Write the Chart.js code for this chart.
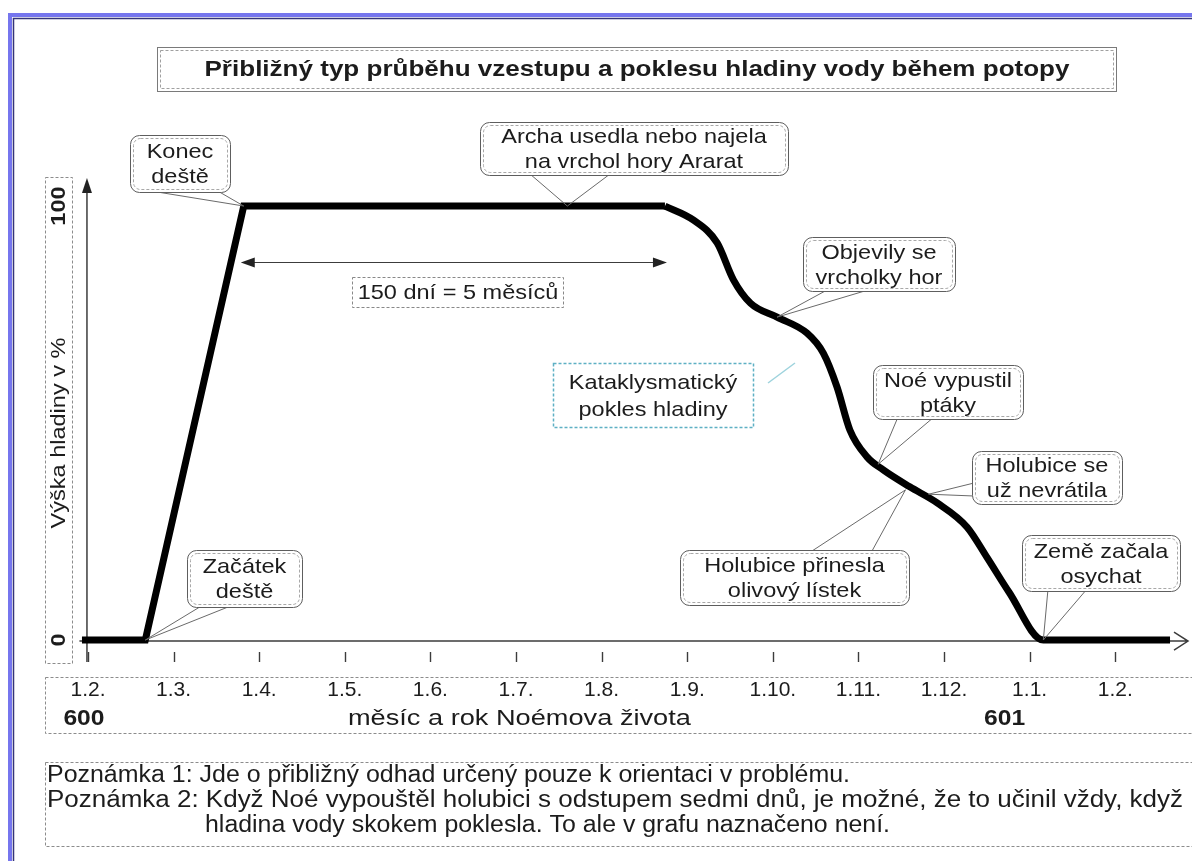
<!DOCTYPE html>
<html>
<head>
<meta charset="utf-8">
<script src="https://cdn.jsdelivr.net/npm/chart.js@4"></script>
<style>
  body { margin: 0; background: #fff; }
  canvas { display: block; }
</style>
</head>
<body>
<canvas id="flood" width="1192" height="861"></canvas>
<script>
// x = months counted from 1.2. of year 600, y = water level in %
const riseMonths = [-0.07, 0.67, 1.82, 6.74];
const riseLevels = [0, 0, 100, 100];
const fallMonths = [6.74, 7.07, 7.35, 7.54, 7.74, 8.05, 8.40, 8.59, 8.75, 8.90, 9.10, 9.29, 9.60, 9.92, 10.27, 10.50, 10.76, 11.16, 12.64];
const fallLevels = [100, 96.8, 91.5, 83, 77.6, 74.4, 70.7, 66.1, 58.3, 48.4, 42.2, 39.2, 35.3, 31.6, 26.0, 19.1, 11.0, 0, 0];

const monthTicks = [0, 1, 2, 3, 4, 5, 6, 7, 8, 9, 10, 11, 12];
const monthLabels = ['1.2.', '1.3.', '1.4.', '1.5.', '1.6.', '1.7.', '1.8.', '1.9.', '1.10.', '1.11.', '1.12.', '1.1.', '1.2.'];
const levelTicks = [0, 100];
const levelLabels = ['0', '100'];

const FONT = '"Liberation Sans", Arial, sans-serif';
const INK = '#1c1c1c';
const SX = 1.12; // reference text runs a bit wider than plain Arial

const notes = [
  'Poznámka 1: Jde o přibližný odhad určený pouze k orientaci v problému.',
  'Poznámka 2: Když Noé vypouštěl holubici s odstupem sedmi dnů, je možné, že to učinil vždy, když',
  'hladina vody skokem poklesla. To ale v grafu naznačeno není.'
];

const callouts = [
  { lines: ['Konec', 'deště'], box: [130, 135, 100, 57], base: [[145, 190], [216, 190]], at: [1.82, 100] },
  { lines: ['Archa usedla nebo najela', 'na vrchol hory Ararat'], box: [480, 122, 308, 53], base: [[530, 174], [610, 174]], at: [5.6, 100] },
  { lines: ['Objevily se', 'vrcholky hor'], box: [803, 237, 152, 54], base: [[827, 290], [868, 290]], at: [8.05, 74.4] },
  { lines: ['Noé vypustil', 'ptáky'], box: [873, 365, 150, 54], base: [[898, 417], [934, 417]], at: [9.23, 40.5] },
  { lines: ['Holubice se', 'už nevrátila'], box: [972, 451, 150, 53], base: [[974, 483], [974, 496]], at: [9.82, 33.6] },
  { lines: ['Holubice přinesla', 'olivový lístek'], box: [680, 550, 229, 55], base: [[812, 551], [872, 551]], at: [9.55, 34.6] },
  { lines: ['Země začala', 'osychat'], box: [1022, 535, 158, 56], base: [[1048, 589], [1087, 589]], at: [11.16, 0] },
  { lines: ['Začátek', 'deště'], box: [187, 550, 115, 57], base: [[203, 605], [233, 605]], at: [0.67, 0] }
];

function txt(ctx, s, x, y, size, o) {
  o = o || {};
  ctx.save();
  ctx.font = (o.bold ? 'bold ' : '') + size + 'px ' + FONT;
  ctx.fillStyle = o.color || INK;
  ctx.textAlign = o.align || 'center';
  ctx.textBaseline = 'middle';
  ctx.translate(x, y);
  if (o.rotate) ctx.rotate(o.rotate);
  const sx = o.width ? o.width / ctx.measureText(s).width : (o.sx || SX);
  ctx.scale(sx, 1);
  ctx.fillText(s, 0, 0);
  ctx.restore();
}

function dashedRect(ctx, x, y, w, h, color, lw) {
  ctx.save();
  ctx.strokeStyle = color || '#8c8c8c';
  ctx.lineWidth = lw || 1;
  ctx.setLineDash([3, 2]);
  ctx.strokeRect(x + 0.5, y + 0.5, w, h);
  ctx.restore();
}

function roundBox(ctx, x, y, w, h, r) {
  ctx.beginPath();
  ctx.roundRect(x + 0.5, y + 0.5, w, h, r);
}

const decorations = {
  id: 'decorations',
  beforeDraw(chart) {
    const ctx = chart.ctx;
    ctx.save();
    ctx.fillStyle = '#fff';
    ctx.fillRect(0, 0, chart.width, chart.height);
    // outer frame
    ctx.strokeStyle = '#7676ee';
    ctx.lineWidth = 4;
    ctx.strokeRect(10, 15, 1300, 1000);
    ctx.strokeStyle = '#34347a';
    ctx.lineWidth = 1.5;
    ctx.strokeRect(13.5, 18.5, 1300, 1000);
    ctx.restore();
  },
  beforeDatasetsDraw(chart) {
    const ctx = chart.ctx, xs = chart.scales.x, ys = chart.scales.y, a = chart.chartArea;
    const x0 = xs.getPixelForValue(0), y0 = ys.getPixelForValue(0);
    ctx.save();
    ctx.strokeStyle = '#3c3c3c';
    ctx.fillStyle = '#222';
    ctx.lineWidth = 1.5;
    // y axis with filled arrow
    ctx.beginPath();
    ctx.moveTo(x0 - 1, y0 + 22);
    ctx.lineTo(x0 - 1, a.top + 10);
    ctx.stroke();
    ctx.beginPath();
    ctx.moveTo(x0 - 1, a.top - 2);
    ctx.lineTo(x0 - 6, a.top + 13);
    ctx.lineTo(x0 + 4, a.top + 13);
    ctx.closePath();
    ctx.fill();
    // x axis with open arrow
    ctx.beginPath();
    ctx.moveTo(a.left, y0 + 1);
    ctx.lineTo(a.right, y0 + 1);
    ctx.moveTo(a.right - 14, y0 - 8);
    ctx.lineTo(a.right, y0 + 1);
    ctx.lineTo(a.right - 14, y0 + 10);
    ctx.stroke();
    // tick marks, detached from the axis
    ctx.lineWidth = 1.4;
    monthTicks.forEach(v => {
      const px = Math.round(xs.getPixelForValue(v)) + 0.5;
      ctx.beginPath();
      ctx.moveTo(px, y0 + 12);
      ctx.lineTo(px, y0 + 22);
      ctx.stroke();
    });
    // 150 days double arrow over the plateau
    const ax1 = xs.getPixelForValue(riseMonths[2]) - 3, ax2 = xs.getPixelForValue(riseMonths[3]) + 2;
    const ay = Math.round(ys.getPixelForValue(87)) + 0.5;
    ctx.lineWidth = 1.2;
    ctx.beginPath();
    ctx.moveTo(ax1 + 8, ay);
    ctx.lineTo(ax2 - 8, ay);
    ctx.stroke();
    ctx.beginPath();
    ctx.moveTo(ax1, ay); ctx.lineTo(ax1 + 14, ay - 5); ctx.lineTo(ax1 + 14, ay + 5); ctx.closePath();
    ctx.moveTo(ax2, ay); ctx.lineTo(ax2 - 14, ay - 5); ctx.lineTo(ax2 - 14, ay + 5); ctx.closePath();
    ctx.fill();
    ctx.restore();
  },
  afterDraw(chart) {
    const ctx = chart.ctx, xs = chart.scales.x, ys = chart.scales.y;
    ctx.save();

    // title box
    ctx.strokeStyle = '#7a7a7a';
    ctx.lineWidth = 1;
    ctx.strokeRect(157.5, 47.5, 959, 44);
    dashedRect(ctx, 160, 50, 953, 38, '#a0a0a0');
    txt(ctx, 'Přibližný typ průběhu vzestupu a poklesu hladiny vody během potopy', 637, 70, 22, { bold: true, width: 865 });

    // y axis label box
    dashedRect(ctx, 45, 177, 27, 486);
    txt(ctx, 'Výška hladiny v %', 59, 433, 21, { rotate: -Math.PI / 2 });
    levelTicks.forEach((v, i) => {
      txt(ctx, levelLabels[i], 59, ys.getPixelForValue(v), 21, { bold: true, rotate: -Math.PI / 2 });
    });

    // x axis label box, years and axis title
    dashedRect(ctx, 45, 677, 1160, 56);
    txt(ctx, '600', xs.getPixelForValue(0) - 4, 719, 22, { bold: true });
    txt(ctx, '601', xs.getPixelForValue(11) - 25, 719, 22, { bold: true });
    txt(ctx, 'měsíc a rok Noémova života', xs.getPixelForValue(5.04), 719, 22, { width: 343 });

    // 150 days label
    dashedRect(ctx, 352, 277, 211, 30, '#888');
    txt(ctx, '150 dní = 5 měsíců', 458, 293, 21);

    // cataclysm box (light blue, no pointer to the curve)
    ctx.strokeStyle = '#9ed3dd';
    ctx.lineWidth = 1.5;
    ctx.beginPath();
    ctx.moveTo(768, 383);
    ctx.lineTo(795, 363);
    ctx.stroke();
    ctx.fillStyle = '#fff';
    ctx.fillRect(553, 363, 200, 64);
    dashedRect(ctx, 553, 363, 200, 64, '#5eb0c4', 1.5);
    txt(ctx, 'Kataklysmatický', 653, 383, 21);
    txt(ctx, 'pokles hladiny', 653, 410, 21);

    // speech bubble callouts
    callouts.forEach(c => {
      const [x, y, w, h] = c.box;
      const tx = xs.getPixelForValue(c.at[0]), ty = ys.getPixelForValue(c.at[1]);
      ctx.strokeStyle = '#6a6a6a';
      ctx.lineWidth = 1;
      ctx.setLineDash([]);
      ctx.beginPath();
      ctx.moveTo(c.base[0][0], c.base[0][1]);
      ctx.lineTo(tx, ty);
      ctx.lineTo(c.base[1][0], c.base[1][1]);
      ctx.stroke();
      roundBox(ctx, x, y, w, h, 9);
      ctx.fillStyle = '#fff';
      ctx.fill();
      ctx.strokeStyle = '#5e5e5e';
      ctx.stroke();
      ctx.save();
      ctx.setLineDash([3, 2]);
      ctx.strokeStyle = '#a8a8a8';
      roundBox(ctx, x + 3, y + 3, w - 6, h - 6, 7);
      ctx.stroke();
      ctx.restore();
      const cy = y + h / 2;
      txt(ctx, c.lines[0], x + w / 2, cy - 11, 21);
      txt(ctx, c.lines[1], x + w / 2, cy + 14, 21);
    });

    // notes
    dashedRect(ctx, 45, 762, 1160, 84);
    txt(ctx, notes[0], 47, 776, 23, { align: 'left', width: 803 });
    txt(ctx, notes[1], 47, 801, 23, { align: 'left', width: 1136 });
    txt(ctx, notes[2], 205, 826, 23, { align: 'left', width: 685 });

    ctx.restore();
  }
};

new Chart(document.getElementById('flood'), {
  type: 'line',
  data: {
    datasets: [
      {
        label: 'rise',
        data: riseMonths.map((m, i) => ({ x: m, y: riseLevels[i] })),
        borderColor: '#000',
        borderWidth: 7,
        borderJoinStyle: 'miter',
        tension: 0,
        pointRadius: 0,
        clip: false
      },
      {
        label: 'fall',
        data: fallMonths.map((m, i) => ({ x: m, y: fallLevels[i] })),
        borderColor: '#000',
        borderWidth: 7,
        cubicInterpolationMode: 'monotone',
        pointRadius: 0,
        clip: false
      }
    ]
  },
  options: {
    responsive: false,
    animation: false,
    devicePixelRatio: 1,
    layout: { padding: { left: 79.4, right: 4, top: 180, bottom: 122.3 } },
    plugins: { legend: { display: false }, tooltip: { enabled: false } },
    scales: {
      x: {
        type: 'linear',
        min: -0.1,
        max: 12.85,
        grid: { display: false, drawTicks: false },
        border: { display: false },
        afterBuildTicks: s => { s.ticks = monthTicks.map(v => ({ value: v })); },
        afterFit: s => { s.height = 90; s.paddingLeft = 0; s.paddingRight = 0; },
        ticks: {
          autoSkip: false,
          minRotation: 0,
          maxRotation: 0,
          padding: 29,
          color: INK,
          font: { family: FONT, size: 21 },
          callback: v => monthLabels[monthTicks.indexOf(v)]
        }
      },
      y: {
        type: 'linear',
        display: false,
        min: -2,
        max: 106
      }
    }
  },
  plugins: [decorations]
});
</script>
</body>
</html>
